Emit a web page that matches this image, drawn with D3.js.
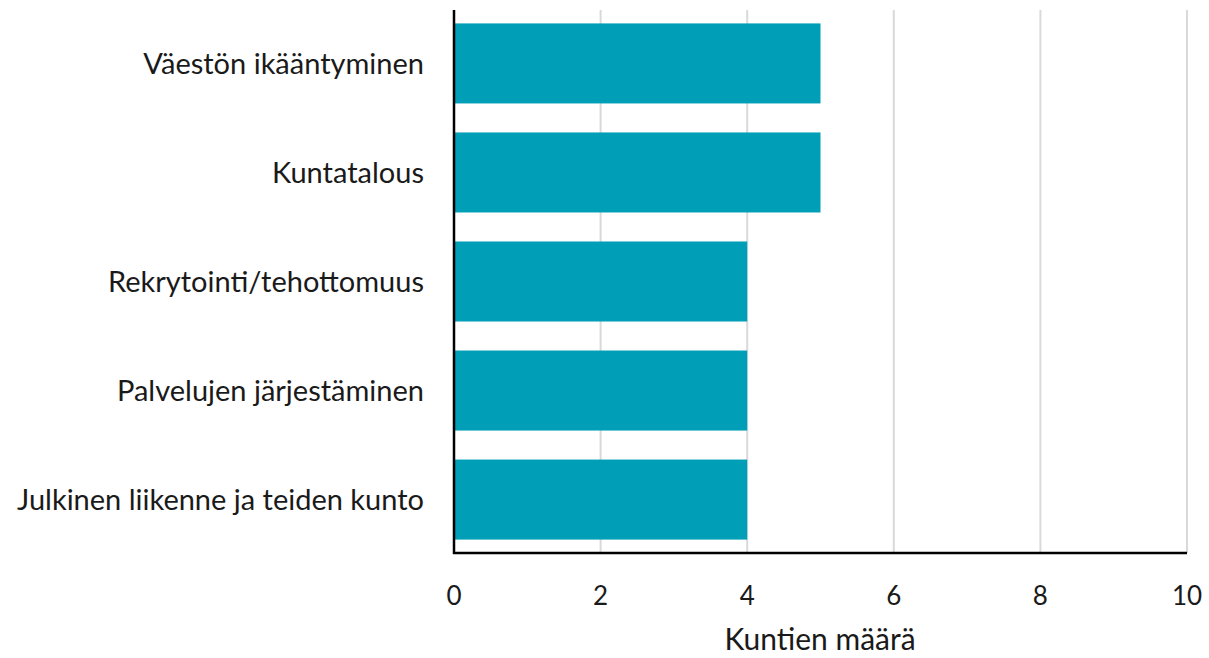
<!DOCTYPE html>
<html>
<head>
<meta charset="utf-8">
<script src="https://cdn.jsdelivr.net/npm/d3@7"></script>
<style>
  body { margin: 0; background: #fff; }
  svg text { font-family: Lato, "Open Sans", sans-serif; fill: #1a1a1a; }
</style>
</head>
<body>
<div id="chart"></div>
<script>
// Data
const categories = [
    'Väestön ikääntyminen',
    'Kuntatalous',
    'Rekrytointi/tehottomuus',
    'Palvelujen järjestäminen',
    'Julkinen liikenne ja teiden kunto'
];
const values = [5, 5, 4, 4, 4];
const xTicks = [0, 2, 4, 6, 8, 10];
const xTitle = 'Kuntien määrä';

const width = 1209, height = 658;
const margin = { top: 10, right: 22, bottom: 105, left: 454 };

const svg = d3.select('#chart').append('svg')
    .attr('width', width)
    .attr('height', height);

const x = d3.scaleLinear()
    .domain([0, 10])
    .range([margin.left, width - margin.right]);

const y = d3.scaleBand()
    .domain(categories)
    .range([margin.top, height - margin.bottom])
    .paddingInner(0.266)
    .paddingOuter(0.123);

// Gridlines
svg.append('g')
    .selectAll('line')
    .data(xTicks.filter(d => d > 0))
    .join('line')
    .attr('x1', d => x(d))
    .attr('x2', d => x(d))
    .attr('y1', margin.top)
    .attr('y2', height - margin.bottom)
    .attr('stroke', '#d9d9d9')
    .attr('stroke-width', 2);

// Bars
svg.append('g')
    .selectAll('rect')
    .data(categories)
    .join('rect')
    .attr('x', x(0))
    .attr('y', d => y(d))
    .attr('width', (d, i) => x(values[i]) - x(0))
    .attr('height', y.bandwidth())
    .attr('fill', '#009fb7');

// Axes lines
svg.append('line')
    .attr('x1', x(0)).attr('x2', x(0))
    .attr('y1', margin.top).attr('y2', height - margin.bottom + 1)
    .attr('stroke', '#000').attr('stroke-width', 2.5);
svg.append('line')
    .attr('x1', x(0) - 1).attr('x2', x(10))
    .attr('y1', height - margin.bottom).attr('y2', height - margin.bottom)
    .attr('stroke', '#000').attr('stroke-width', 2.5);

// Tick labels
svg.append('g')
    .selectAll('text')
    .data(xTicks)
    .join('text')
    .attr('x', d => x(d))
    .attr('y', 605)
    .attr('text-anchor', 'middle')
    .style('font-size', '26px')
    .text(d => d);

// Category labels
svg.append('g')
    .selectAll('text')
    .data(categories)
    .join('text')
    .attr('x', 424)
    .attr('y', d => y(d) + y.bandwidth() / 2)
    .attr('dy', '0.35em')
    .attr('text-anchor', 'end')
    .style('font-size', '29px')
    .text(d => d);

// Axis title
svg.append('text')
    .attr('x', 820)
    .attr('y', 650)
    .attr('text-anchor', 'middle')
    .style('font-size', '30px')
    .text(xTitle);
</script>
</body>
</html>
